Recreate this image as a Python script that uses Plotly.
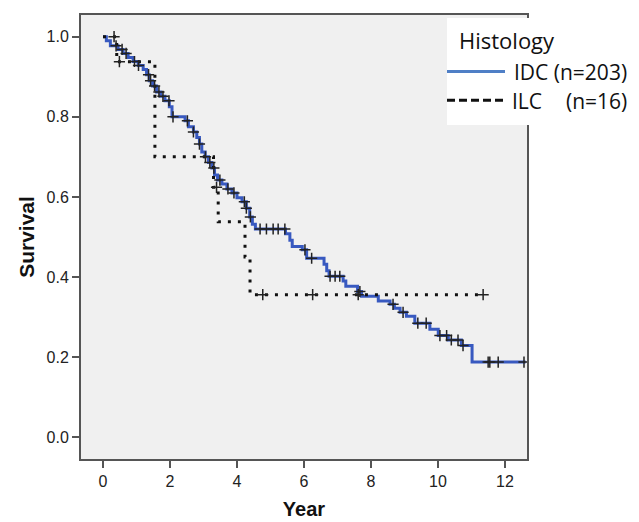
import numpy as np
import plotly.graph_objects as go

# ---- data ----
idc_t = [0, 0.1, 0.22, 0.45, 0.6, 0.75, 0.9, 1.05, 1.2, 1.3,
         1.38, 1.48, 1.6, 1.72, 1.85, 1.98, 2.06, 2.45, 2.55, 2.7,
         2.8, 2.88, 2.95, 3.05, 3.15, 3.25, 3.33, 3.42, 3.55, 3.7,
         3.85, 4.0, 4.15, 4.28, 4.38, 4.46, 4.55, 5.45, 5.58, 5.65,
         5.95, 6.08, 6.6, 6.68, 6.75, 7.17, 7.25, 7.6, 7.72, 8.22,
         8.57, 8.7, 8.87, 9.06, 9.31, 9.76, 10.01, 10.31, 10.7, 11.02, 12.62]
idc_s = [1.0, 0.99, 0.977, 0.968, 0.958, 0.948, 0.938, 0.928, 0.918, 0.905,
         0.89, 0.877, 0.862, 0.851, 0.84, 0.825, 0.80, 0.79, 0.775, 0.762,
         0.748, 0.732, 0.712, 0.70, 0.686, 0.672, 0.655, 0.642, 0.632, 0.62,
         0.61, 0.598, 0.588, 0.572, 0.55, 0.532, 0.52, 0.508, 0.492, 0.476,
         0.468, 0.447, 0.432, 0.416, 0.402, 0.39, 0.377, 0.364, 0.352, 0.34,
         0.332, 0.322, 0.312, 0.302, 0.285, 0.27, 0.254, 0.243, 0.229, 0.188, 0.188]
idc_censored = [0.39, 0.57, 0.69, 0.94, 1.06, 1.36, 1.42, 1.54, 1.67, 1.79,
                1.97, 2.09, 2.52, 2.70, 2.88, 3.06, 3.19, 3.31, 3.49, 3.73,
                3.91, 4.22, 4.28, 4.40, 4.69, 4.88, 5.08, 5.23, 5.43, 6.03,
                6.23, 6.78, 6.93, 7.07, 7.67, 8.66, 8.96, 9.4, 9.65, 10.06,
                10.26, 10.4, 10.6, 10.75, 11.5, 11.55, 11.8, 12.57]

ilc_t = [0, 0.41, 1.55, 3.3, 3.44, 4.24, 4.39, 11.35]
ilc_s = [1.0, 0.9375, 0.70, 0.624, 0.538, 0.45, 0.356, 0.356]
ilc_censored = [0.33, 0.49, 3.39, 4.77, 6.26, 7.62, 11.35]

x_ticks = [0, 2, 4, 6, 8, 10, 12]
y_ticks = [0.0, 0.2, 0.4, 0.6, 0.8, 1.0]

legend_title = "Histology"
idc_label = "IDC (n=203)"
ilc_label = ["ILC", "(n=16)"]


def step_at(times, surv, xs):
    t = np.asarray(times)
    s = np.asarray(surv)
    idx = np.searchsorted(t, np.asarray(xs), side="right") - 1
    return s[idx]


# page offset of the plot div (default body margin)
OFF = 8
W, H = 639 - OFF, 522 - OFF
# plot area in window pixels
L, R, T, B = 81, 527, 13, 461


def px(xp):
    return (xp - L) / (R - L)


def py(yp):
    return (B - yp) / (B - T)


fig = go.Figure()

fig.add_trace(go.Scatter(x=idc_t, y=idc_s, mode="lines", line_shape="hv",
                         line=dict(color="#3859c0", width=3), name=idc_label,
                         showlegend=False))
fig.add_trace(go.Scatter(x=ilc_t, y=ilc_s, mode="lines", line_shape="hv",
                         line=dict(color="#111111", width=3, dash="3px,7px"),
                         name="ILC (n=16)", showlegend=False))
fig.add_trace(go.Scatter(x=idc_censored, y=step_at(idc_t, idc_s, idc_censored),
                         mode="markers",
                         marker=dict(symbol="cross-thin", size=8,
                                     line=dict(color="#222222", width=1.5)),
                         showlegend=False, name="IDC censored"))
fig.add_trace(go.Scatter(x=ilc_censored, y=step_at(ilc_t, ilc_s, ilc_censored),
                         mode="markers",
                         marker=dict(symbol="cross-thin", size=8,
                                     line=dict(color="#222222", width=1.5)),
                         showlegend=False, name="ILC censored"))

# custom legend (box, samples, texts)
shapes = [
    dict(type="rect", xref="paper", yref="paper", x0=px(447), x1=px(645),
         y0=py(124), y1=py(16), fillcolor="white", line=dict(width=0),
         layer="above"),
    dict(type="line", xref="paper", yref="paper", x0=px(447), x1=px(505),
         y0=py(70), y1=py(70), line=dict(color="#4f7fc6", width=3),
         layer="above"),
    dict(type="line", xref="paper", yref="paper", x0=px(447), x1=px(507),
         y0=py(99), y1=py(99), line=dict(color="#111111", width=3,
                                          dash="8px,4px"),
         layer="above"),
]
lfont = dict(family="Open Sans", size=21, color="#111111")
annotations = [
    dict(text=legend_title, xref="paper", yref="paper", x=px(457), y=py(38),
         xanchor="left", yanchor="middle", showarrow=False,
         font=dict(family="Open Sans", size=22, color="#111111")),
    dict(text=idc_label, xref="paper", yref="paper", x=px(629), y=py(71),
         xanchor="right", yanchor="middle", showarrow=False, font=lfont),
    dict(text=ilc_label[0], xref="paper", yref="paper", x=px(510), y=py(100),
         xanchor="left", yanchor="middle", showarrow=False, font=lfont),
    dict(text=ilc_label[1], xref="paper", yref="paper", x=px(629), y=py(100),
         xanchor="right", yanchor="middle", showarrow=False, font=lfont),
]

axis_common = dict(showgrid=False, zeroline=False, showline=True,
                   linecolor="#555555", linewidth=2, mirror=True,
                   ticks="outside", ticklen=7, tickwidth=1.5, tickcolor="#555555",
                   tickfont=dict(family="Liberation Sans", size=16, color="#222222"))

fig.update_layout(
    width=W, height=H,
    margin=dict(l=L - OFF, r=639 - R, t=T - OFF, b=522 - B),
    paper_bgcolor="white",
    plot_bgcolor="#f0f0f0",
    shapes=shapes,
    annotations=annotations,
    xaxis=dict(range=[-0.657, 12.66], tickvals=x_ticks,
               title=dict(text="<b>Year</b>", standoff=13,
                          font=dict(family="Liberation Sans", size=20, color="#111111")),
               **axis_common),
    yaxis=dict(range=[-0.054, 1.054], tickvals=y_ticks, tickformat=".1f",
               title=dict(text="<b>Survival</b>", standoff=6,
                          font=dict(family="Liberation Sans", size=21, color="#111111")),
               **axis_common),
)

fig.write_html("out.html", config={"displayModeBar": False})
